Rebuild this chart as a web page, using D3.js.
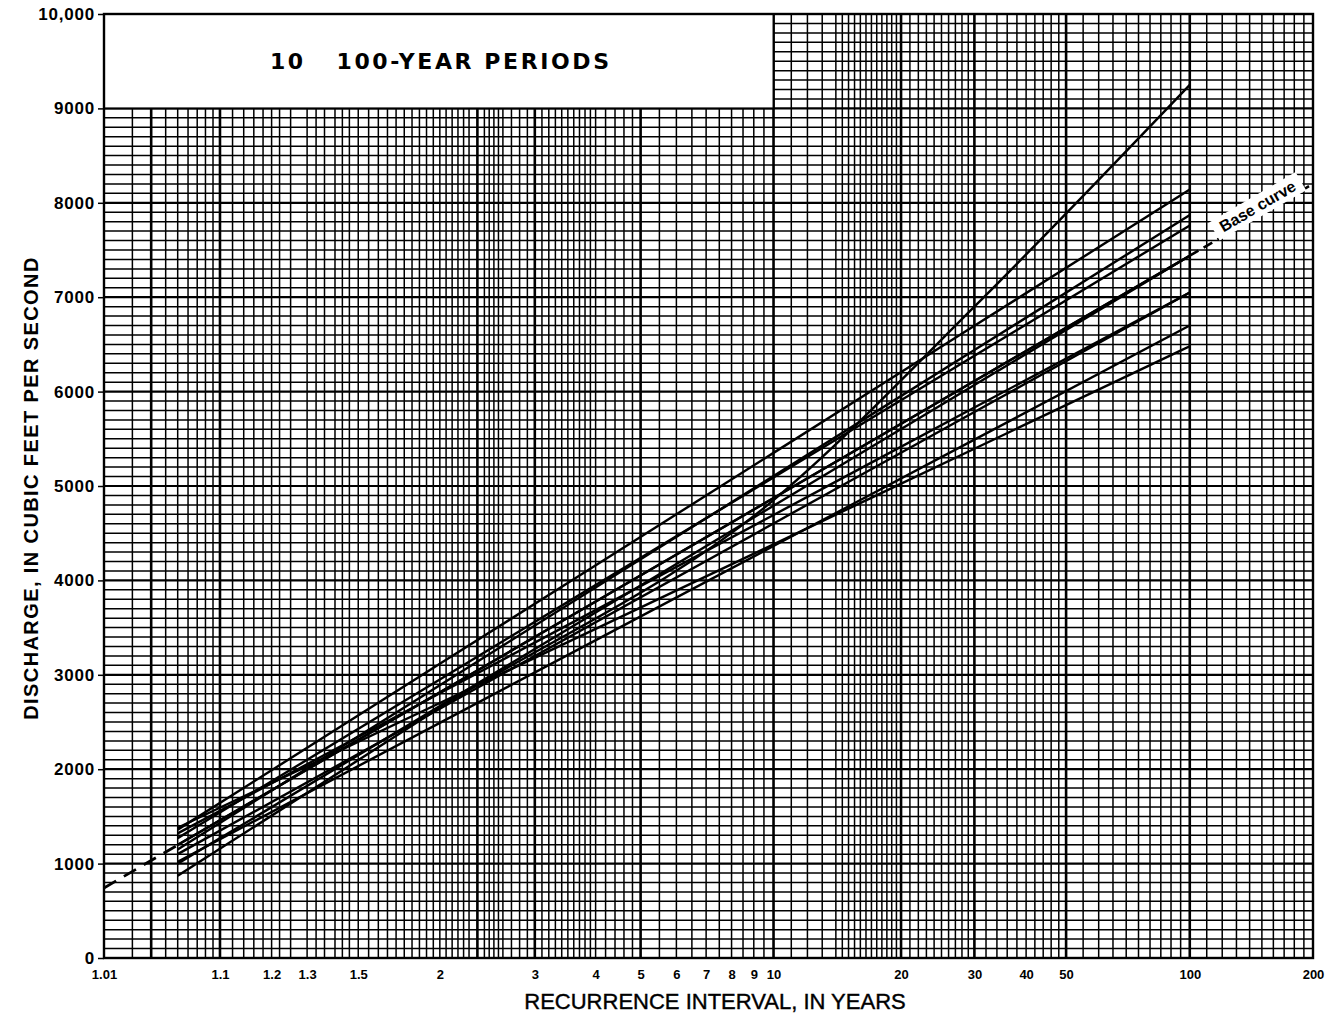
<!DOCTYPE html>
<html><head><meta charset="utf-8">
<script src="https://cdn.jsdelivr.net/npm/d3@7"></script>
<style>body{margin:0;background:#fff}svg{display:block}</style>
</head><body>
<svg id="c" width="1329" height="1017"></svg>
<script>
// ---- data ----
const xTickLabels = [1.01,1.1,1.2,1.3,1.5,2,3,4,5,6,7,8,9,10,20,30,40,50,100,200];
const yTickValues = [0,1000,2000,3000,4000,5000,6000,7000,8000,9000,10000];
const gridT = [1.01,1.02,1.03,1.04,1.05,1.06,1.07,1.08,1.09,1.1,1.12,1.14,1.16,1.18,1.2,1.22,1.25,1.3,1.33,1.36,1.4,1.43,1.46,1.5,1.55,1.6,1.65,1.7,1.75,1.8,1.85,1.9,1.95,2,2.05,2.1,2.15,2.2,2.25,2.33,2.4,2.45,2.5,2.55,2.6,2.7,2.8,2.9,3,3.1,3.2,3.3,3.4,3.5,3.6,3.7,3.8,3.9,4,4.2,4.4,4.6,4.8,5,5.5,6,6.5,7,7.5,8,8.5,9,9.5,10,11,12,13,14,14.5,15,15.5,16,16.5,17,17.5,18,18.5,19,19.5,20,21,22,23,24,25,26,27,28,29,30,32,34,36,38,40,42,44,46,48,50,55,60,65,70,75,80,85,90,95,100,110,120,130,140,150,160,170,180,190,200];
const heavyT = [1.03,1.1,2.33,3,5,10,20,30,50,100];
// recurrence intervals at which each period's curve is read
const periodT = [1.05, 2, 10, 30, 100];
const periods = [
  [870, 2650, 4850, 6900, 9250],
  [1360, 3116, 5351, 6697, 8140],
  [1150, 2890, 5106, 6440, 7870],
  [1270, 2951, 5091, 6379, 7760],
  [1200, 2816, 4873, 6112, 7440],
  [1100, 2641, 4603, 5784, 7050],
  [1320, 2804, 4693, 5831, 7050],
  [1020, 2491, 4364, 5491, 6700],
  [1380, 2701, 4382, 5395, 6480],
  [1000, 2668, 4791, 6070, 7440]
];
const baseT = [1.01, 200];
const baseQ = [742, 8200];
const titleText = "10\u00a0\u00a0\u00a0100-YEAR PERIODS";

// ---- scales ----
const u = T => -Math.log(-Math.log(1 - 1 / T));
const x = d3.scaleLinear().domain([u(1.01), u(200)]).range([104, 1313]);
const y = d3.scaleLinear().domain([0, 10000]).range([958, 14]);
const X = T => x(u(T));
const FONT = "Liberation Sans, Arial, sans-serif";

const svg = d3.select("#c");
const g = svg.append("g");

// horizontal grid every 100 cfs
const hVals = d3.range(0, 10001, 100);
g.append("g").selectAll("line").data(hVals).join("line")
  .attr("x1", x.range()[0]).attr("x2", x.range()[1])
  .attr("y1", d => y(d)).attr("y2", d => y(d))
  .attr("stroke", "#000")
  .attr("stroke-width", d => d % 1000 === 0 ? 2.2 : 1.5);

// vertical grid
g.append("g").selectAll("line").data(gridT).join("line")
  .attr("x1", d => X(d)).attr("x2", d => X(d))
  .attr("y1", y(0)).attr("y2", y(10000))
  .attr("stroke", "#000")
  .attr("stroke-width", d => heavyT.includes(d) ? 2.6 : 1.5);

// title box
g.append("rect")
  .attr("x", X(1.01)).attr("y", y(10000))
  .attr("width", X(10) - X(1.01)).attr("height", y(9000) - y(10000))
  .attr("fill", "#fff").attr("stroke", "#000").attr("stroke-width", 2);
g.append("text")
  .attr("x", (X(1.01) + X(10)) / 2 + 2).attr("y", (y(10000) + y(9000)) / 2 + 8)
  .attr("text-anchor", "middle")
  .attr("font-family", "DejaVu Sans, sans-serif").attr("font-size", 22)
  .attr("font-weight", "bold").attr("letter-spacing", 2.6)
  .text(titleText);

// plot frame
g.append("rect")
  .attr("x", x.range()[0]).attr("y", y(10000))
  .attr("width", x.range()[1] - x.range()[0]).attr("height", y(0) - y(10000))
  .attr("fill", "none").attr("stroke", "#000").attr("stroke-width", 2.4);

// period curves
const line = d3.line().x(d => X(d[0])).y(d => y(d[1])).curve(d3.curveMonotoneX);
g.append("g").selectAll("path").data(periods).join("path")
  .attr("d", vals => line(periodT.map((t, i) => [t, vals[i]])))
  .attr("fill", "none").attr("stroke", "#000").attr("stroke-width", 2.4);

// base curve (dashed extensions)
const baseLine = d3.line().x(d => X(d[0])).y(d => y(d[1]));
const bq = T => baseQ[0] + (u(T) - u(baseT[0])) / (u(baseT[1]) - u(baseT[0])) * (baseQ[1] - baseQ[0]);
g.append("path")
  .attr("d", baseLine([[1.01, bq(1.01)], [1.05, bq(1.05)]]))
  .attr("fill", "none").attr("stroke", "#000").attr("stroke-width", 2.8)
  .attr("stroke-dasharray", "14,9");
g.append("path")
  .attr("d", baseLine([[1.05, bq(1.05)], [100, bq(100)]]))
  .attr("fill", "none").attr("stroke", "#000").attr("stroke-width", 2.4);
g.append("path")
  .attr("d", baseLine([[100, bq(100)], [200, bq(200)]]))
  .attr("fill", "none").attr("stroke", "#000").attr("stroke-width", 2.6)
  .attr("stroke-dasharray", "10,6");
// label
{
  const p1 = [X(100), y(bq(100))], p2 = [X(200), y(bq(200))];
  const ang = Math.atan2(p2[1] - p1[1], p2[0] - p1[0]) * 180 / Math.PI;
  const Tm = 150;
  const cx = X(Tm), cy = y(bq(Tm));
  const lab = g.append("g").attr("transform", `translate(${cx},${cy}) rotate(${ang})`);
  lab.append("rect").attr("x", -50).attr("y", -19).attr("width", 100).attr("height", 21).attr("fill", "#fff");
  lab.append("text").attr("x", 0).attr("y", -3).attr("text-anchor", "middle")
    .attr("font-family", FONT).attr("font-weight", "bold")
    .attr("font-size", 16).text("Base curve");
}

// axes
const yAxis = d3.axisLeft(y).tickValues(yTickValues).tickSize(6).tickPadding(3)
  .tickFormat(d => d === 10000 ? "10,000" : String(d));
const ya = svg.append("g").attr("transform", `translate(${x.range()[0]},0)`).call(yAxis);
ya.select(".domain").remove();
ya.selectAll("line").attr("stroke", "#000").attr("stroke-width", 1.5);
ya.selectAll("text").attr("font-family", FONT)
  .attr("font-weight", "bold").attr("font-size", 17).attr("letter-spacing", 0.8).attr("fill", "#000");

const xAxis = d3.axisBottom(x).tickValues(xTickLabels.map(u)).tickSize(0).tickPadding(12)
  .tickFormat((d, i) => String(xTickLabels[i]));
const xa = svg.append("g").attr("transform", `translate(0,${y(0)})`).call(xAxis);
xa.select(".domain").remove();
xa.selectAll("text").attr("font-family", FONT)
  .attr("font-weight", "bold").attr("font-size", 13).attr("fill", "#000");

// axis titles
svg.append("text").attr("x", 715).attr("y", 1009).attr("text-anchor", "middle")
  .attr("font-family", FONT).attr("font-size", 22)
  .attr("stroke", "#000").attr("stroke-width", 0.4)
  .text("RECURRENCE INTERVAL, IN YEARS");
svg.append("text").attr("transform", `translate(38,${(y(0)+y(10000))/2 + 2}) rotate(-90)`)
  .attr("text-anchor", "middle")
  .attr("font-family", FONT).attr("font-size", 20).attr("font-weight", "bold")
  .attr("letter-spacing", 1.4)
  .text("DISCHARGE, IN CUBIC FEET PER SECOND");
</script>
</body></html>
